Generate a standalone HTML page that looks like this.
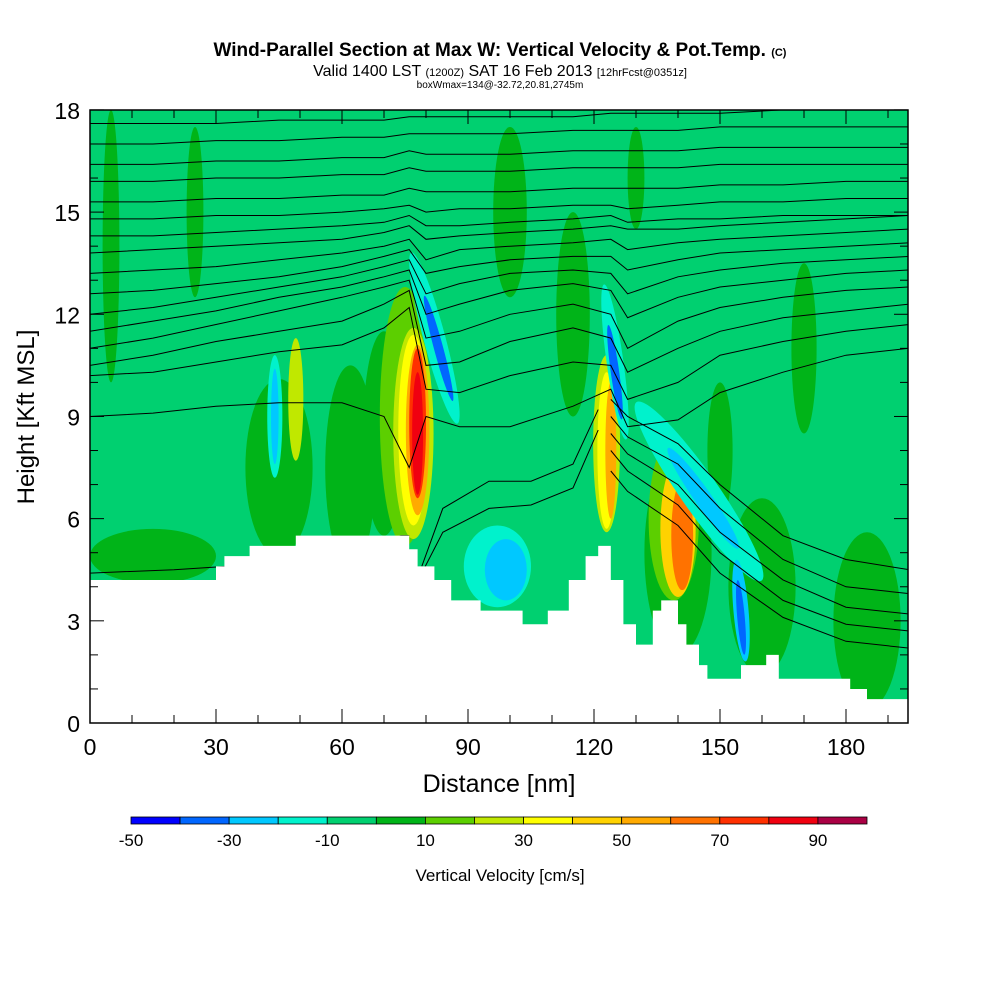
<!DOCTYPE html>
<html><head><meta charset="utf-8"><style>
body{margin:0;background:#fff;width:1000px;height:1000px;overflow:hidden}
text{font-family:"Liberation Sans",sans-serif}
</style></head><body>
<svg id="chart" width="1000" height="1000" viewBox="0 0 1000 1000" xmlns="http://www.w3.org/2000/svg">
<text x="500" y="56" text-anchor="middle" font-size="19" font-weight="bold">Wind-Parallel Section at Max W: Vertical Velocity &amp; Pot.Temp. <tspan font-size="11">(C)</tspan></text>
<text x="500" y="76" text-anchor="middle" font-size="16">Valid 1400 LST <tspan font-size="11">(1200Z)</tspan> SAT 16 Feb 2013 <tspan font-size="11">[12hrFcst@0351z]</tspan></text>
<text x="500" y="88" text-anchor="middle" font-size="10">boxWmax=134@-32.72,20.81,2745m</text>
<defs><clipPath id="plotclip"><rect x="90" y="110" width="818" height="613"/></clipPath></defs>
<g id="plot" clip-path="url(#plotclip)"></g>
<g id="axes"></g>
<text x="499" y="792" text-anchor="middle" font-size="25">Distance [nm]</text>
<text transform="translate(34,417) rotate(-90)" text-anchor="middle" font-size="24">Height [Kft MSL]</text>
<g id="cbar"></g>
<text x="500" y="881" text-anchor="middle" font-size="17">Vertical Velocity [cm/s]</text>
</svg>
<script>
const NS="http://www.w3.org/2000/svg";
// ---- data ----
const cbarLevels=[-50,-40,-30,-20,-10,0,10,20,30,40,50,60,70,80,90,100];
const cbarColors=["#0000ff","#0066ff","#00c8ff","#00f2cc","#00d070","#00b418","#5ccf00","#c0e800","#ffff00","#ffd200","#ffaa00","#ff7200","#ff3000","#f00010","#aa0044"];
const cbarLabels=[-50,-30,-10,10,30,50,70,90];
const xTicks=[0,30,60,90,120,150,180];
const yTicks=[0,3,6,9,12,15,18];
const terrainX=[0,30,32,38,49,74,76,78,82,86,93,103,109,114,118,121,124,127,128,130,134,136,140,142,145,147,152,155,161,164,181,185,195];
const terrainZ=[4.2,4.6,4.9,5.2,5.5,5.5,5.1,4.6,4.2,3.6,3.3,2.9,3.3,4.2,4.9,5.2,4.2,2.9,2.9,2.3,3.3,3.6,2.9,2.3,1.7,1.3,1.3,1.7,2.0,1.3,1.0,0.7,0.7];
const thetaStations=[0,15,30,45,60,70,76,80,88,100,115,124,128,140,150,165,180,195];
const thetaUpper=[
[17.6,17.6,17.6,17.7,17.7,17.7,17.8,17.8,17.8,17.8,17.8,17.9,17.9,17.9,17.9,18,18,18],
[17.0,17.0,17.1,17.1,17.2,17.2,17.3,17.3,17.3,17.3,17.4,17.4,17.4,17.4,17.5,17.5,17.5,17.5],
[16.4,16.4,16.5,16.5,16.6,16.6,16.8,16.7,16.7,16.7,16.8,16.8,16.8,16.8,16.9,16.9,16.9,16.9],
[15.9,15.9,16.0,16.0,16.1,16.1,16.3,16.2,16.2,16.2,16.3,16.3,16.3,16.3,16.4,16.4,16.4,16.4],
[15.3,15.3,15.4,15.4,15.5,15.5,15.7,15.6,15.6,15.6,15.7,15.7,15.7,15.7,15.8,15.8,15.9,15.9],
[14.8,14.8,14.9,14.9,15.0,15.1,15.2,15.0,15.1,15.1,15.2,15.2,15.1,15.2,15.3,15.3,15.4,15.4],
[14.3,14.3,14.4,14.5,14.6,14.7,14.9,14.6,14.6,14.7,14.8,14.9,14.7,14.8,14.8,14.9,14.9,14.9],
[13.8,13.9,14.0,14.1,14.2,14.4,14.6,14.2,14.3,14.4,14.5,14.6,14.5,14.5,14.6,14.7,14.8,14.9],
[13.2,13.3,13.4,13.6,13.8,14.0,14.2,13.6,13.9,14.0,14.1,14.2,13.9,14.1,14.2,14.3,14.4,14.5],
[12.6,12.7,12.9,13.1,13.4,13.7,13.9,13.2,13.4,13.6,13.7,13.7,13.3,13.6,13.8,13.9,14.0,14.1],
[12.0,12.2,12.5,12.8,13.1,13.4,13.6,12.6,12.9,13.2,13.3,13.2,12.6,13.1,13.3,13.5,13.6,13.7],
[11.5,11.8,12.1,12.5,12.8,13.1,13.3,12.0,12.3,12.7,12.9,12.7,11.9,12.5,12.8,13.0,13.2,13.3],
[11.0,11.3,11.7,12.1,12.5,12.8,13.0,11.3,11.5,12.0,12.3,12.0,11.0,11.8,12.2,12.5,12.7,12.8],
[10.5,10.8,11.2,11.5,11.8,12.3,12.7,10.5,10.6,11.2,11.6,11.3,10.3,11.0,11.5,11.9,12.1,12.3],
[10.2,10.3,10.6,10.9,11.1,11.6,12.2,9.8,9.7,10.2,10.6,10.5,9.5,10.0,10.8,11.2,11.5,11.7],
[9.0,9.1,9.3,9.4,9.4,9.0,7.5,9.0,8.7,8.7,9.3,9.8,8.7,8.9,9.7,10.3,10.8,11.0]
];
const thetaRightX=[124,128,140,150,165,180,195];
const thetaRight=[
[9.5,9.0,8.2,7.0,5.5,4.8,4.5],
[9.0,8.4,7.6,6.3,4.8,4.0,3.8],
[8.5,7.9,7.0,5.6,4.2,3.4,3.2],
[8.0,7.4,6.4,5.0,3.6,2.9,2.7],
[7.4,6.8,5.8,4.4,3.1,2.4,2.2]
];
const thetaValleyX=[79,84,95,105,115,121];
const thetaValley=[[4.6,6.3,7.1,7.1,7.6,9.2],[4.4,5.6,6.3,6.4,6.9,8.6]];
const thetaLeftX=[0,20,45,62,70,74,76];
const thetaLeft=[[4.4,4.5,4.7,5.0,5.3,5.5,5.5]];
// vertical velocity features: [nm, kft, rx nm, ry kft, level index, rotation deg]
const wBlobX=[75,77,77,78,78,78,123,123,124,139,140,141,97,99,44,44,49,82,83,125,125,145,146,155,155];
const wBlobZ=[9,8.5,8.6,8.6,8.8,8.5,8.2,8,8,6,5.7,5.5,4.6,4.5,9,9,9.5,11.3,11.0,10.6,10.3,6.8,6.6,3.3,3.1];
const wBlobRX=[6,4.8,3.6,2.8,2.0,1.3,3.2,2.2,1.3,6,4.2,2.6,8,5,1.8,0.9,1.8,2.6,1.1,2.0,1.0,4.5,2.0,1.8,0.9];
const wBlobRZ=[3.8,3.1,2.8,2.5,2.2,1.8,2.6,2.3,2.0,2.4,2.0,1.6,1.2,0.9,1.8,1.4,1.8,2.6,1.6,2.3,1.4,3.2,1.8,1.5,1.1];
const wBlobLevel=[6,7,8,10,12,13,7,8,10,6,9,11,3,2,3,2,7,3,1,3,1,3,2,2,1];
const wBlobRot=[0,0,0,0,0,0,0,0,0,0,0,0,0,0,0,0,0,-15,-15,-8,-8,-35,-35,-5,-5];
// dark green (0..10) patches
const gPatchX=[15,45,62,70,140,160,185,100,115,5,25,170,130,150];
const gPatchZ=[4.9,7.5,7.5,8.5,5,4,3,15,12,14,15,11,16,8];
const gPatchRX=[15,8,6,5,8,8,8,4,4,2,2,3,2,3];
const gPatchRZ=[0.8,2.6,3,3,3,2.6,2.6,2.5,3,4,2.5,2.5,1.5,2];
// ---- scales ----
const X=v=>90+v*4.2, Y=v=>723-v*34.06;
const plot=document.getElementById('plot'), axes=document.getElementById('axes'), cb=document.getElementById('cbar');
function mk(tag,attrs,parent){const e=document.createElementNS(NS,tag);for(const k in attrs)e.setAttribute(k,attrs[k]);parent.appendChild(e);return e;}
let bg=mk('rect',{x:90,y:110,width:818,height:613,fill:cbarColors[4]},plot);


for(let i=0;i<gPatchX.length;i++){
 const e=mk('ellipse',{cx:X(gPatchX[i]),cy:Y(gPatchZ[i]),rx:gPatchRX[i]*4.2,ry:gPatchRZ[i]*34.06,fill:cbarColors[5]},plot);
 
 
}
for(let i=0;i<wBlobX.length;i++){
 const cx=X(wBlobX[i]),cy=Y(wBlobZ[i]);
 const e=mk('ellipse',{cx:cx,cy:cy,rx:wBlobRX[i]*4.2,ry:wBlobRZ[i]*34.06,fill:cbarColors[wBlobLevel[i]],transform:`rotate(${wBlobRot[i]} ${cx} ${cy})`},plot);
 
 
}
function line(xs,zs,name){
 const p=mk('path',{d:'M'+xs.map((x,i)=>X(x).toFixed(1)+','+Y(zs[i]).toFixed(1)).join(' L'),fill:'none',stroke:'#000','stroke-width':1},plot);
 
 
}
thetaUpper.forEach(z=>line(thetaStations,z,'theta-contour'));
thetaRight.forEach(z=>line(thetaRightX,z,'theta-contour'));
thetaValley.forEach(z=>line(thetaValleyX,z,'theta-contour'));
thetaLeft.forEach(z=>line(thetaLeftX,z,'theta-contour'));
// terrain
let d=`M${X(terrainX[0])},${Y(0)} L${X(terrainX[0])},${Y(terrainZ[0])}`;
for(let i=0;i<terrainX.length;i++){const nx=i+1<terrainX.length?terrainX[i+1]:200;d+=` L${X(terrainX[i])},${Y(terrainZ[i])} L${X(nx)},${Y(terrainZ[i])}`;}
d+=` L${X(200)},${Y(0)} Z`;
const ter=mk('path',{d:d,fill:'#fff'},plot);


// axes
const fr=mk('rect',{x:90,y:110,width:818,height:613,fill:'none',stroke:'#000','stroke-width':1.5},axes);


for(let v=0;v<=190;v+=10){const maj=v%30===0;const l=maj?14:8;
 mk('line',{x1:X(v),x2:X(v),y1:723,y2:723-l,stroke:'#000'},axes);
 mk('line',{x1:X(v),x2:X(v),y1:110,y2:110+l,stroke:'#000'},axes);}
xTicks.forEach(v=>{const t=mk('text',{x:X(v),y:755,'text-anchor':'middle','font-size':23},axes);t.textContent=v;
 
 });
for(let v=0;v<=18;v++){const l=v%3===0?14:8;
 mk('line',{x1:90,x2:90+l,y1:Y(v),y2:Y(v),stroke:'#000'},axes);
 mk('line',{x1:908,x2:908-l,y1:Y(v),y2:Y(v),stroke:'#000'},axes);}
yTicks.forEach(v=>{const t=mk('text',{x:80,y:Y(v)+9,'text-anchor':'end','font-size':23},axes);t.textContent=v;
 
 });
// colorbar
const cw=736/cbarColors.length;
cbarColors.forEach((c,i)=>{const r=mk('rect',{x:131+i*cw,y:817,width:cw,height:7,fill:c,stroke:'#000','stroke-width':0.8},cb);
 
 });
cbarLabels.forEach(v=>{const i=cbarLevels.indexOf(v);const t=mk('text',{x:131+i*cw,y:846,'text-anchor':'middle','font-size':17},cb);t.textContent=v;
 
 });
</script>
</body></html>
